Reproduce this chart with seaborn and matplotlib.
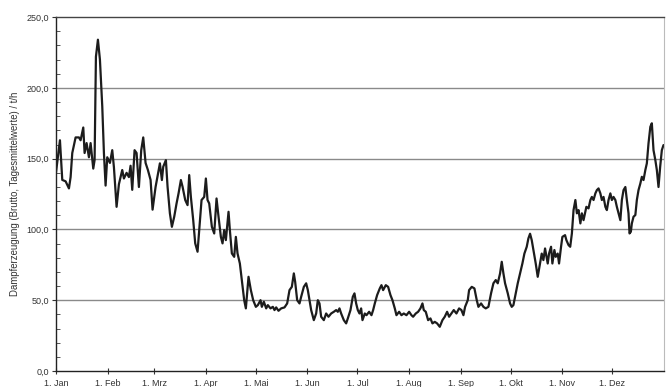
import matplotlib
matplotlib.use("Agg")
import pandas as pd
import matplotlib.pyplot as plt
import seaborn as sns
from matplotlib.ticker import MultipleLocator

DAY = [0, 2.4, 3.8, 5.8, 7.8, 8.8, 9.8, 11.8, 13.8, 14.8, 16.4, 17.2, 18.4, 19.8, 20.8,
       22.4, 23.2, 24, 25.2, 26.4, 27.8, 28.8, 29.8, 30.8, 32.4, 33.8, 34.8, 36.4, 37.8,
       38.8, 39.8, 40.8, 42.4, 43.8, 44.8, 45.8, 47.2, 48.4, 49.8, 51.2, 52.4, 53.8, 55.2,
       56.8, 58, 59.8,
       62.4, 63.6, 64.4, 66, 67, 68.4, 69.6, 71, 72.4, 73.6, 75, 76, 77.6, 79, 80, 81,
       82.4, 83.6, 85, 86, 87.4, 89, 90, 91, 92, 93.6, 95, 96.4, 97.6, 99, 100, 101, 102,
       103.6, 104.4, 105.6, 107, 108, 109, 110.4, 111.6, 113, 114, 115.6, 117, 118.4, 120,
       121.2, 122.8, 123.6, 124.8, 126.2, 127.2, 128.8, 130.2, 131.2, 132.2, 133.6, 135.2,
       137.2, 138.8, 140.2, 141.6, 142.8, 143.6, 144.8, 146.2, 147.2, 148.8, 150.2, 151.2,
       152.2, 153.2, 154.8, 156.2, 157.2, 158.2, 159.2, 160.8, 162.2, 163.6, 165.2, 166.8,
       168.2, 169.2, 170.2, 171.2, 172.8, 174.2, 175.2, 176.8, 178.2, 179.2, 180.2, 181.2,
       182.2, 183.2,
       184, 185.4, 186.4, 188, 189.4, 190.4, 191.4, 192.8, 194.4, 195.4, 196.4, 198, 199.4,
       200.8, 202, 203.4, 204.4, 206, 207.4, 208.8, 210.4, 212, 213.4, 214.4, 216, 217.4,
       218.8, 220, 220.8, 222, 223.4, 224.8, 226, 227.4, 228.8, 230.4, 232, 233.4, 234.8,
       236, 237.4, 238.8, 240.4, 242, 243.4,
       244.6, 245.6, 247.2, 248, 249.6, 251.2, 252.6, 253.6, 255.2, 256.6, 258, 259.6, 261.2,
       262.6, 264, 265.2, 266.6, 267.6, 268.6, 269.6, 271.2, 272.6, 273.6, 274.6, 276, 277.2,
       278.6, 280, 281.2, 282.6, 283.6, 284.6, 285.6, 286.6, 288, 289.2, 290.6, 291.6, 292.6,
       293.6, 295.2, 296, 297.2, 298, 299.2, 300, 301.2, 302, 303.2, 304, 305.6,
       306.4, 307.7, 308.7, 309.7, 310.7, 311.8, 312.7, 313.7, 314.8, 315.7, 316.7, 318.4,
       319.7, 320.8, 321.7, 322.7, 323.8, 324.7, 325.7, 326.8, 327.7, 328.7, 329.8, 330.7,
       331.7, 332.8, 333.7, 334.7, 335.8, 336.7, 337.7, 338.8, 339.7, 340.7, 341.8, 342.7,
       343.7, 344.3, 345.1, 345.7, 346.7, 347.8, 348.7, 349.7, 350.8, 351.7, 352.7, 353.8,
       354.7, 355.7, 356.8, 357.7, 358.7, 359.8, 360.7, 361.7, 362.7, 363.7, 364.7]

STEAM = [140, 163, 135, 134, 129, 137, 154, 165, 165, 163, 172, 154, 161, 151, 161,
         143, 149, 222, 234, 220, 187, 154, 131, 151, 147, 156, 144, 116, 132,
         137, 142, 136, 140, 137, 145, 128, 156, 154, 130, 156, 165, 147, 142,
         135, 114, 130,
         146.7, 134.9, 144.3, 149, 130.2, 111.4, 101.9, 109, 118.4, 125.5, 134.9, 130.2, 120.8, 117.2, 138.4, 123,
         106.6, 90.2, 84.3, 99.6, 120.8, 123, 136, 120.8, 118.4, 101.9, 97.2, 121.9, 109, 94.8, 90.2, 99.6, 92.5,
         112.5, 99.6, 83.1, 80.7, 94.8, 83.1, 76, 64.3, 50.1, 44.3, 66.6, 57.2, 50.1, 45.4,
         46.6, 50.1, 45.4, 49, 44.3, 46.6, 44.3, 45.4, 43.1, 45, 42.6, 44.3,
         45, 47.8, 57.2, 59.5, 69, 63, 50.1, 47.8, 52.5, 59.5, 62, 57.2,
         50.1, 43.1, 36, 40.7, 50.1, 47.8, 38.4, 36, 40.7, 38.4, 40.7, 41.9,
         43.1, 41.9, 44.3, 40.7, 36, 33.7, 37.2, 43.1, 52.5, 54.9, 47.8, 43.1,
         40.7, 44.3,
         36, 40.7, 39.5, 41.9, 39.5, 43.1, 47.8, 53.7, 58.4, 60.7, 57.2, 60.7, 59.5,
         53.7, 50.1, 44.3, 39.5, 41.9, 39.5, 40.7, 39.5, 41.9, 39.5, 38.4, 40.7, 41.9,
         44.3, 47.8, 43.1, 41.9, 36, 37.2, 33.7, 34.8, 33.7, 31.3, 36, 38.4, 41.9,
         38.4, 40.7, 43.1, 40.7, 44.3, 43.1,
         39.5, 45.4, 50.1, 57.2, 59.5, 58.4, 50.1, 45.4, 47.8, 45.4, 44.3, 45.4, 55,
         62, 64.3, 62, 69, 77.2, 69, 62, 55, 47.8, 45.4, 46.6, 55, 62,
         69, 76, 83, 87.8, 93.7, 97, 92.5, 85.5, 76, 66.6, 76, 83, 78.4,
         86.6, 76, 83, 87.8, 76, 85.5, 80.7, 83, 76, 87.8, 94.8, 96,
         92.5, 89, 87.8, 97.2, 113.7, 120.8, 111.4, 113.7, 104.3, 111.4, 106.6, 116,
         114.9, 120.8, 123, 120.8, 125.5, 127.8, 129, 125.5, 120.8, 123, 116, 113.7,
         120.8, 125.5, 120.8, 123, 120.8, 116, 111.4, 106.6, 120.8, 127.8, 130, 120.8,
         111.4, 97.2, 98.4, 104.3, 109, 110.2, 120.8, 127.8, 132.5, 137.2, 134.9, 142,
         146.7, 160.8, 172.5, 175, 156, 149, 142, 130, 144.3, 156, 159.6]

MONTH_START = [0, 31, 59, 90, 120, 151, 181, 212, 243, 273, 304, 334]
MONTH_LABELS = ["1. Jan", "1. Feb", "1. Mrz", "1. Apr", "1. Mai", "1. Jun",
                "1. Jul", "1. Aug", "1. Sep", "1. Okt", "1. Nov", "1. Dez"]
Y_TICKS = [0, 50, 100, 150, 200, 250]

sns.set_style("white")
plt.rcParams["font.family"] = ["Liberation Sans", "DejaVu Sans"]

df = pd.DataFrame({"tag": DAY, "dampf": STEAM})

fig = plt.figure(figsize=(6.66, 3.87), dpi=100)
ax = fig.add_axes([0.084, 0.041, 0.913, 0.915])

sns.lineplot(data=df, x="tag", y="dampf", ax=ax, sort=False,
             color="#1c1c1c", lw=1.6)

ax.set_xlim(0, 365)
ax.set_ylim(0, 250)

# horizontale Gitterlinien
for v in Y_TICKS[1:-1]:
    ax.axhline(v, color="#8a8a8a", lw=1.0, zorder=0)

ax.set_yticks(Y_TICKS)
ax.set_yticklabels([f"{v:.1f}".replace(".", ",") for v in Y_TICKS])
ax.yaxis.set_minor_locator(MultipleLocator(10))
ax.tick_params(axis="y", which="major", direction="out", length=3, width=0.8,
               labelsize=6.5, pad=2, colors="#333333", left=True)
ax.tick_params(axis="y", which="minor", direction="in", length=3, width=0.7,
               color="#555555", left=True)

ax.set_xticks(MONTH_START)
ax.set_xticklabels(MONTH_LABELS)
ax.tick_params(axis="x", which="major", direction="inout", length=4, width=0.8,
               labelsize=6.5, pad=4, colors="#333333", bottom=True)

ax.set_xlabel("")
ax.set_ylabel("Dampferzeugung (Brutto, Tagesmittelwerte) / t/h",
              fontsize=6.9, color="#333333", labelpad=5)

for side in ["left", "bottom"]:
    ax.spines[side].set_color("#222222")
    ax.spines[side].set_linewidth(1.0)
ax.spines["top"].set_color("#444444")
ax.spines["top"].set_linewidth(1.0)
ax.spines["right"].set_color("#bbbbbb")
ax.spines["right"].set_linewidth(0.8)

fig.savefig("out.png", dpi=100)
